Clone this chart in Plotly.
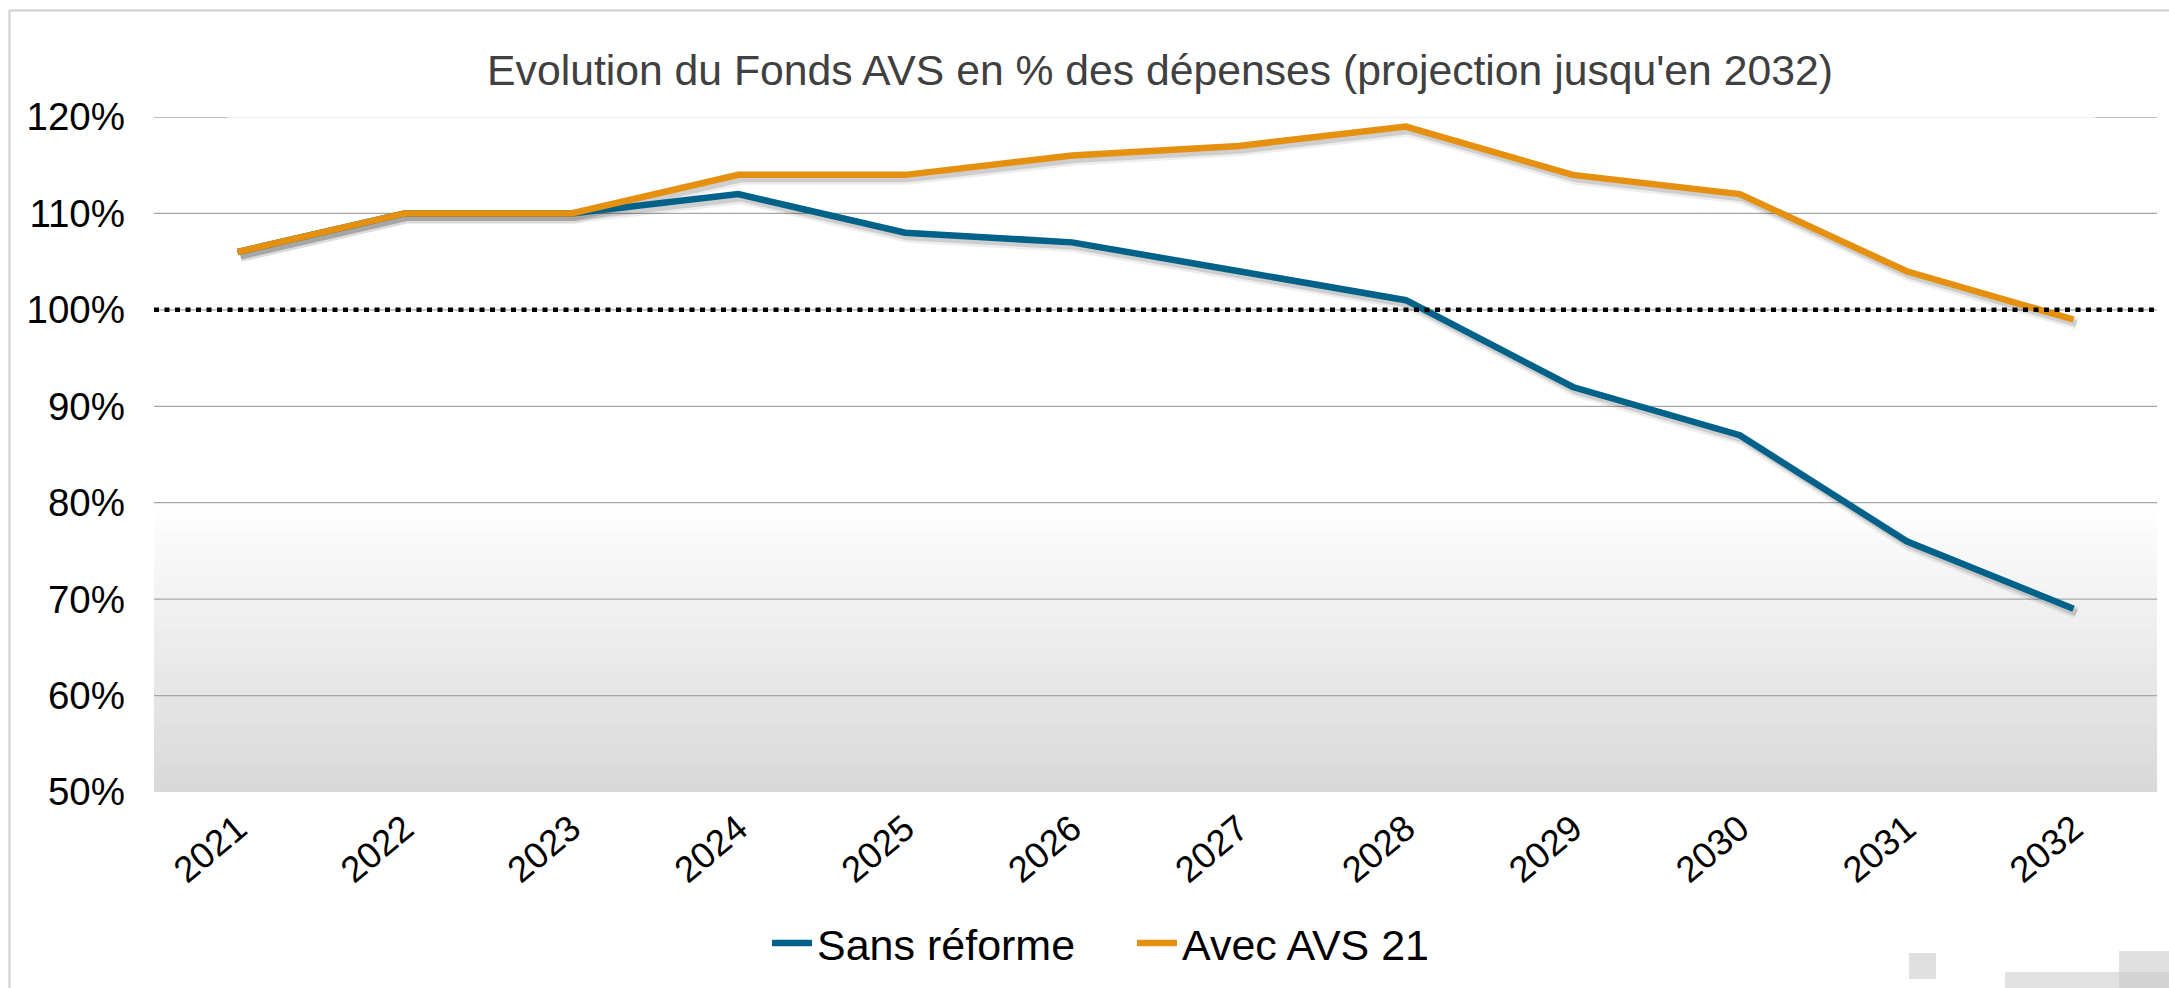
import plotly.graph_objects as go

# ---------------- data ----------------
years = ["2021", "2022", "2023", "2024", "2025", "2026",
         "2027", "2028", "2029", "2030", "2031", "2032"]
sans_reforme = [106, 110, 110, 112, 108, 107, 104, 101, 92, 87, 76, 69]
avec_avs21 = [106, 110, 110, 114, 114, 116, 117, 119, 114, 112, 104, 99]
y_tick_vals = [50, 60, 70, 80, 90, 100, 110, 120]
y_tick_text = ["50%", "60%", "70%", "80%", "90%", "100%", "110%", "120%"]
threshold = 100
title_text = "Evolution du Fonds AVS en % des dépenses (projection jusqu'en 2032)"
series_names = ["Sans réforme", "Avec AVS 21"]

# ---------------- layout geometry ----------------
W, H = 2169, 988
L, R, T, B = 154, 12, 117, 196
PW = W - L - R
PH = H - T - B
FONT = "Liberation Sans, Arial, sans-serif"
BLUE = "#006189"
ORANGE = "#E5900E"
GRID = "#a6a6a6"


def px_x(px):
    return (px - L) / PW


def px_y(py):
    return (H - B - py) / PH


X_RANGE = [-0.5, len(years) - 0.5]
Y_RANGE = [50, 120]
cat_px = PW / (X_RANGE[1] - X_RANGE[0])
val_px = PH / (Y_RANGE[1] - Y_RANGE[0])
sdx, sdy = 3, 4  # shadow offset in px
shadow_xrange = [X_RANGE[0] - sdx / cat_px, X_RANGE[1] - sdx / cat_px]
shadow_yrange = [Y_RANGE[0] + sdy / val_px, Y_RANGE[1] + sdy / val_px]

fig = go.Figure()

# shadows (on base axes with shifted ranges)
for vals in (sans_reforme, avec_avs21):
    fig.add_trace(go.Scatter(x=years, y=vals, mode="lines", xaxis="x", yaxis="y",
                             line=dict(color="rgba(0,0,0,0.07)", width=12),
                             showlegend=False, hoverinfo="skip"))
    fig.add_trace(go.Scatter(x=years, y=vals, mode="lines", xaxis="x", yaxis="y",
                             line=dict(color="rgba(0,0,0,0.13)", width=7),
                             showlegend=False, hoverinfo="skip"))

# real lines
fig.add_trace(go.Scatter(x=years, y=sans_reforme, mode="lines", name=series_names[0],
                         xaxis="x2", yaxis="y2", line=dict(color=BLUE, width=6.5)))
fig.add_trace(go.Scatter(x=years, y=avec_avs21, mode="lines", name=series_names[1],
                         xaxis="x2", yaxis="y2", line=dict(color=ORANGE, width=6.5)))

shapes = []
# gradient background from 80% down to 50%
n_strips = 30
g_top, g_bot = 80, Y_RANGE[0]
c_top, c_bot = 255, 216
for i in range(n_strips):
    y1 = g_top - (g_top - g_bot) * i / n_strips
    y0 = g_top - (g_top - g_bot) * (i + 1) / n_strips
    t = (i + 0.5) / n_strips
    c = round(c_top + (c_bot - c_top) * t)
    shapes.append(dict(type="rect", xref="paper", yref="y2", x0=0, x1=1,
                       y0=y0, y1=min(y1 + 0.06, g_top), fillcolor=f"rgb({c},{c},{c})",
                       line=dict(width=0), layer="below"))
# horizontal gridlines
for v in y_tick_vals[1:-1]:
    shapes.append(dict(type="line", xref="paper", yref="y2", x0=0, x1=1, y0=v, y1=v,
                       line=dict(color=GRID, width=1.3), layer="below"))
# top gridline: light in the middle, darker at both ends
shapes.append(dict(type="line", xref="x2", yref="y2", x0=X_RANGE[0], x1=-0.06,
                   y0=Y_RANGE[1], y1=Y_RANGE[1], line=dict(color=GRID, width=1.3),
                   layer="below"))
shapes.append(dict(type="line", xref="x2", yref="y2", x0=-0.06, x1=11.13,
                   y0=Y_RANGE[1], y1=Y_RANGE[1], line=dict(color="#ebebeb", width=1.5),
                   layer="below"))
shapes.append(dict(type="line", xref="x2", yref="y2", x0=11.13, x1=X_RANGE[1],
                   y0=Y_RANGE[1], y1=Y_RANGE[1], line=dict(color=GRID, width=1.3),
                   layer="below"))
# 100% dotted reference line
shapes.append(dict(type="line", xref="paper", yref="y2", x0=0, x1=1,
                   y0=threshold, y1=threshold,
                   line=dict(color="black", width=4.5, dash="5px,5.5px"), layer="above"))
# outer border
shapes.append(dict(type="rect", xref="paper", yref="paper",
                   x0=px_x(9.5), x1=px_x(2185), y0=px_y(1005), y1=px_y(10.5),
                   line=dict(color="#d0d0d0", width=2), fillcolor="rgba(0,0,0,0)",
                   layer="below"))
# small grey decoration blocks bottom right
for (x0, x1, y0, y1, col) in [(1909, 1936, 953, 979, "#e0e0e0"),
                              (2005, 2119, 972, 990, "#e2e2e2"),
                              (2119, 2169, 951, 972, "#e0e0e0"),
                              (2119, 2169, 972, 990, "#d3d3d3")]:
    shapes.append(dict(type="rect", xref="paper", yref="paper",
                       x0=px_x(x0), x1=px_x(x1), y0=px_y(y1), y1=px_y(y0),
                       fillcolor=col, line=dict(width=0), layer="below"))

fig.update_layout(
    width=W, height=H,
    margin=dict(l=L, r=R, t=T, b=B, pad=0, autoexpand=False),
    paper_bgcolor="white", plot_bgcolor="white",
    font=dict(family=FONT, color="black", size=36),
    title=dict(text=title_text, x=px_x(1160), xref="paper", xanchor="center",
               y=1 - 70 / H, yref="container", yanchor="middle",
               font=dict(size=42.7, color="#404040", family=FONT)),
    xaxis=dict(type="category", categoryarray=years, range=shadow_xrange,
               visible=False, showgrid=False),
    yaxis=dict(range=shadow_yrange, visible=False, showgrid=False),
    xaxis2=dict(type="category", categoryarray=years, categoryorder="array",
                overlaying="x", anchor="y2", side="bottom", range=X_RANGE,
                showgrid=False, zeroline=False, showline=False, ticks="",
                tickangle=-40, tickfont=dict(size=36.5, color="black"),
                ticklabelstandoff=7),
    yaxis2=dict(overlaying="y", anchor="x2", side="left", range=Y_RANGE,
                tickvals=y_tick_vals, ticktext=y_tick_text,
                showgrid=False, zeroline=False, showline=False, ticks="",
                tickfont=dict(size=38.5, color="black"), ticklabelstandoff=28),
    legend=dict(orientation="h", x=px_x(1132), xanchor="center",
                y=px_y(943), yanchor="middle", font=dict(size=43, color="black"),
                bgcolor="rgba(0,0,0,0)", itemwidth=40, entrywidth=310,
                tracegroupgap=0),
    shapes=shapes,
    showlegend=True,
)

fig.write_html("out.html", config={"displayModeBar": False},
               post_script="document.body.style.margin='0';")
